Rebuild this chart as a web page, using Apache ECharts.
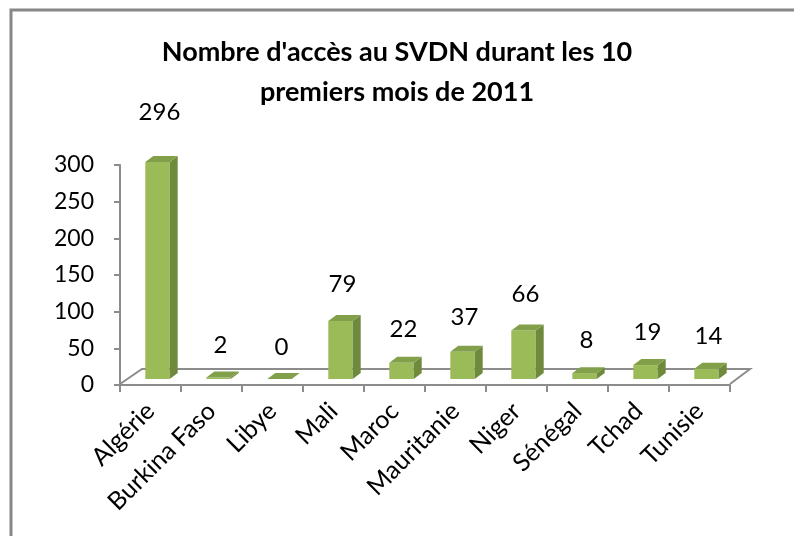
<!DOCTYPE html>
<html>
<head>
<meta charset="utf-8">
<script src="https://cdn.jsdelivr.net/npm/echarts@6/dist/echarts.min.js"></script>
<style>
  html, body { margin: 0; padding: 0; background: #fff; }
  #main { width: 794px; height: 536px; }
</style>
</head>
<body>
<div id="main"></div>
<script>
// données
const categories = ['Algérie', 'Burkina Faso', 'Libye', 'Mali', 'Maroc', 'Mauritanie', 'Niger', 'Sénégal', 'Tchad', 'Tunisie']
const acces = [296, 2, 0, 79, 22, 37, 66, 8, 19, 14]
const yTicks = [0, 50, 100, 150, 200, 250, 300]

const gridLeft = 120, gridRight = 64, gridTop = 165, gridBottom = 151
const W = 794, H = 536
const axisGray = '#8c8c8c'

let myChart = echarts.init(document.getElementById('main'))

// barre 3D : face avant, côté, dessus
function renderBar(params, api) {
    let i = api.value(0)
    let v = api.value(1)
    let base = api.coord([i, 0])
    let top = api.coord([i, v])
    let bw = api.size([1, 0])[0] * 0.4
    let dx = 8, dy = -6
    let x0 = base[0] - bw / 2 + 7
    let x1 = x0 + bw
    let yb = base[1] - 6
    let yt = top[1] - 6
    let labelY = yt - 32 - (yb - yt) * 0.08
    return {
        type: 'group',
        children: [{
                type: 'rect',
                shape: { x: x0, y: yt, width: bw, height: yb - yt },
                style: { fill: '#9bbb59' }
            },
            {
                type: 'polygon',
                shape: { points: [[x1, yb], [x1 + dx, yb + dy], [x1 + dx, yt + dy], [x1, yt]] },
                style: { fill: '#6f8a3c' }
            },
            {
                type: 'polygon',
                shape: { points: [[x0, yt], [x0 + dx, yt + dy], [x1 + dx, yt + dy], [x1, yt]] },
                style: { fill: '#82a04a' }
            },
            {
                type: 'text',
                style: {
                    text: String(v),
                    x: x0 + bw / 2 + 2,
                    y: labelY,
                    align: 'center',
                    verticalAlign: 'middle',
                    fontFamily: 'Lato',
                    fontSize: 24,
                    fill: '#000'
                }
            }
        ]
    }
}

const fx0 = gridLeft, fx1 = W - gridRight, fy = H - gridBottom
let option = {
    backgroundColor: '#fff',
    animation: false,
    title: {
        text: "Nombre d'accès au SVDN durant les 10\npremiers mois de 2011",
        left: 'center',
        top: 27,
        textStyle: {
            fontFamily: 'Lato',
            fontWeight: 'bold',
            fontSize: 27,
            lineHeight: 40,
            color: '#000'
        }
    },
    grid: {
        left: gridLeft,
        right: gridRight,
        top: gridTop,
        bottom: gridBottom
    },
    xAxis: {
        type: 'category',
        data: categories,
        axisLine: { lineStyle: { color: axisGray, width: 2 } },
        axisTick: { show: true, length: 7, lineStyle: { color: axisGray, width: 2 } },
        axisLabel: {
            interval: 0,
            rotate: 45,
            margin: 22,
            fontFamily: 'Lato',
            fontSize: 25,
            color: '#000'
        }
    },
    yAxis: {
        type: 'value',
        min: yTicks[0],
        max: yTicks[yTicks.length - 1],
        interval: 50,
        splitLine: { show: false },
        axisLine: { show: true, lineStyle: { color: axisGray, width: 2 } },
        axisTick: { show: true, length: 6, lineStyle: { color: axisGray, width: 2 } },
        axisLabel: {
            margin: 26,
            fontFamily: 'Lato',
            fontSize: 23,
            color: '#000'
        }
    },
    graphic: [{
            // cadre
            type: 'polyline',
            shape: { points: [[11, H], [11, 10], [W, 10]] },
            style: { stroke: '#888', lineWidth: 3, fill: null }
        },
        {
            // plancher 3D
            type: 'polyline',
            shape: { points: [[fx0, fy - 1], [fx0 + 22, fy - 16], [fx1 + 20, fy - 16], [fx1, fy - 1]] },
            style: { stroke: axisGray, lineWidth: 2, fill: null }
        }
    ],
    series: [{
        type: 'custom',
        renderItem: renderBar,
        data: acces.map((v, i) => [i, v]),
        z: 3
    }]
}

myChart.setOption(option)
</script>
</body>
</html>
